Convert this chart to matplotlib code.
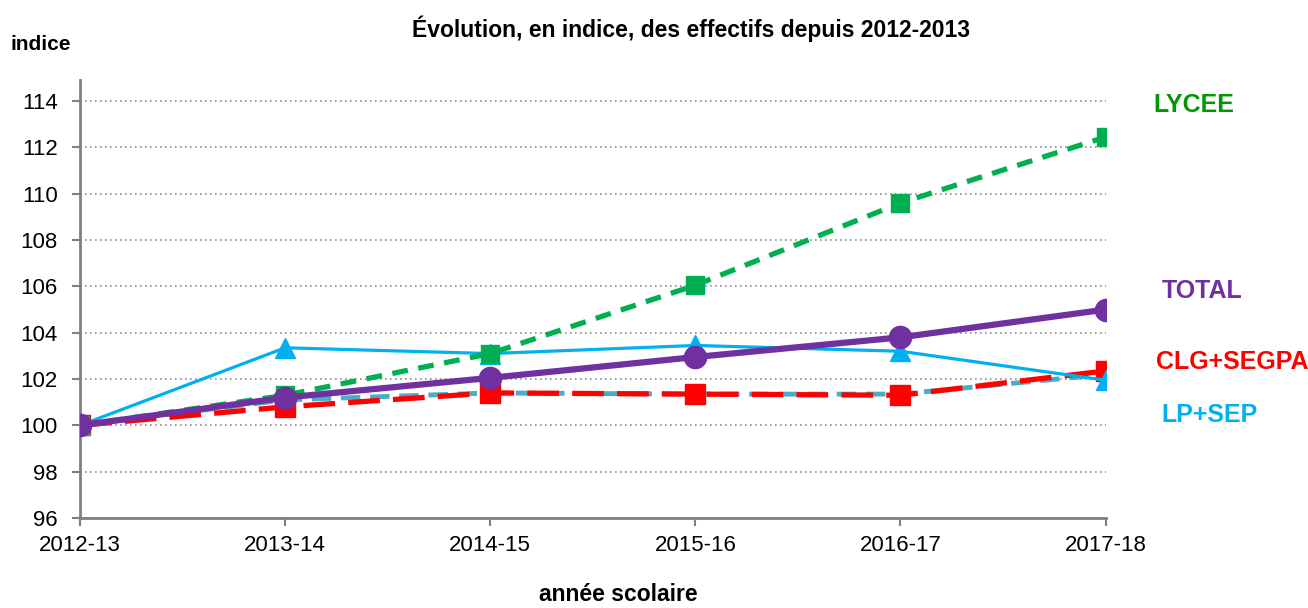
import matplotlib
matplotlib.use('Agg')
import matplotlib.pyplot as plt

plt.rcParams['font.family'] = ['Liberation Sans', 'DejaVu Sans']

years = ['2012-13', '2013-14', '2014-15', '2015-16', '2016-17', '2017-18']
lycee = [100, 101.3, 103.1, 106.05, 109.6, 112.45]
total = [100, 101.2, 102.05, 102.95, 103.8, 105.0]
clg_segpa = [100, 100.8, 101.4, 101.35, 101.3, 102.35]
lp_sep = [100, 103.35, 103.1, 103.45, 103.2, 101.95]
ensemble = [100, 101.1, 101.4, 101.35, 101.35, 102.2]

x = range(len(years))

fig = plt.figure(figsize=(13.08, 6.08), dpi=100)
ax = fig.add_axes([0.0612, 0.148, 0.784, 0.72])

ax.plot(x, ensemble, color='#4BACC6', lw=3.5, ls=(0, (4, 2)), zorder=2)
ax.plot(x, clg_segpa, color='#FF0000', lw=3.8, ls=(0, (6, 2.5)),
        marker='s', ms=15, mec='#FF0000', mfc='#FF0000', zorder=3)
ax.plot(x, lp_sep, color='#00B0F0', lw=2.3, marker='^', ms=14,
        mec='#00B0F0', mfc='#00B0F0', zorder=4)
ax.plot(x, lycee, color='#00B050', lw=3.8, ls=(0, (3, 2)),
        marker='s', ms=13, mec='#00B050', mfc='#00B050', zorder=5)
ax.plot(x, total, color='#7030A0', lw=4.5, marker='o', ms=16,
        mec='#7030A0', mfc='#7030A0', zorder=6)

ax.set_xlim(0, 5)
ax.set_ylim(96, 114.9)
ax.set_yticks(range(96, 115, 2))
ax.set_xticks(list(x))
ax.set_xticklabels(years)
ax.tick_params(axis='both', labelsize=16, colors='#808080', labelcolor='black',
               length=6, width=1.5)
ax.tick_params(axis='y', pad=10)
ax.tick_params(axis='x', pad=6)
ax.grid(axis='y', color='#909090', ls=(0, (1, 2)), lw=1.2)
for s in ['top', 'right']:
    ax.spines[s].set_visible(False)
for s in ['left', 'bottom']:
    ax.spines[s].set_color('#808080')
    ax.spines[s].set_linewidth(2)
ax.set_axisbelow(True)

fig.text(0.528, 0.953, 'Évolution, en indice, des effectifs depuis 2012-2013',
         ha='center', va='center', fontsize=16.5, fontweight='bold')
fig.text(0.008, 0.927, 'indice', ha='left', va='center', fontsize=15, fontweight='bold')
fig.text(0.4725, 0.022, 'année scolaire', ha='center', va='center', fontsize=16.5,
         fontweight='bold')

fig.text(0.913, 0.827, 'LYCEE', ha='center', va='center', fontsize=18,
         fontweight='bold', color='#009900')
fig.text(0.919, 0.521, 'TOTAL', ha='center', va='center', fontsize=18,
         fontweight='bold', color='#7030A0')
fig.text(0.942, 0.405, 'CLG+SEGPA', ha='center', va='center', fontsize=18,
         fontweight='bold', color='#FF0000')
fig.text(0.925, 0.317, 'LP+SEP', ha='center', va='center', fontsize=18,
         fontweight='bold', color='#00B0F0')

plt.savefig('out.png', dpi=100)
